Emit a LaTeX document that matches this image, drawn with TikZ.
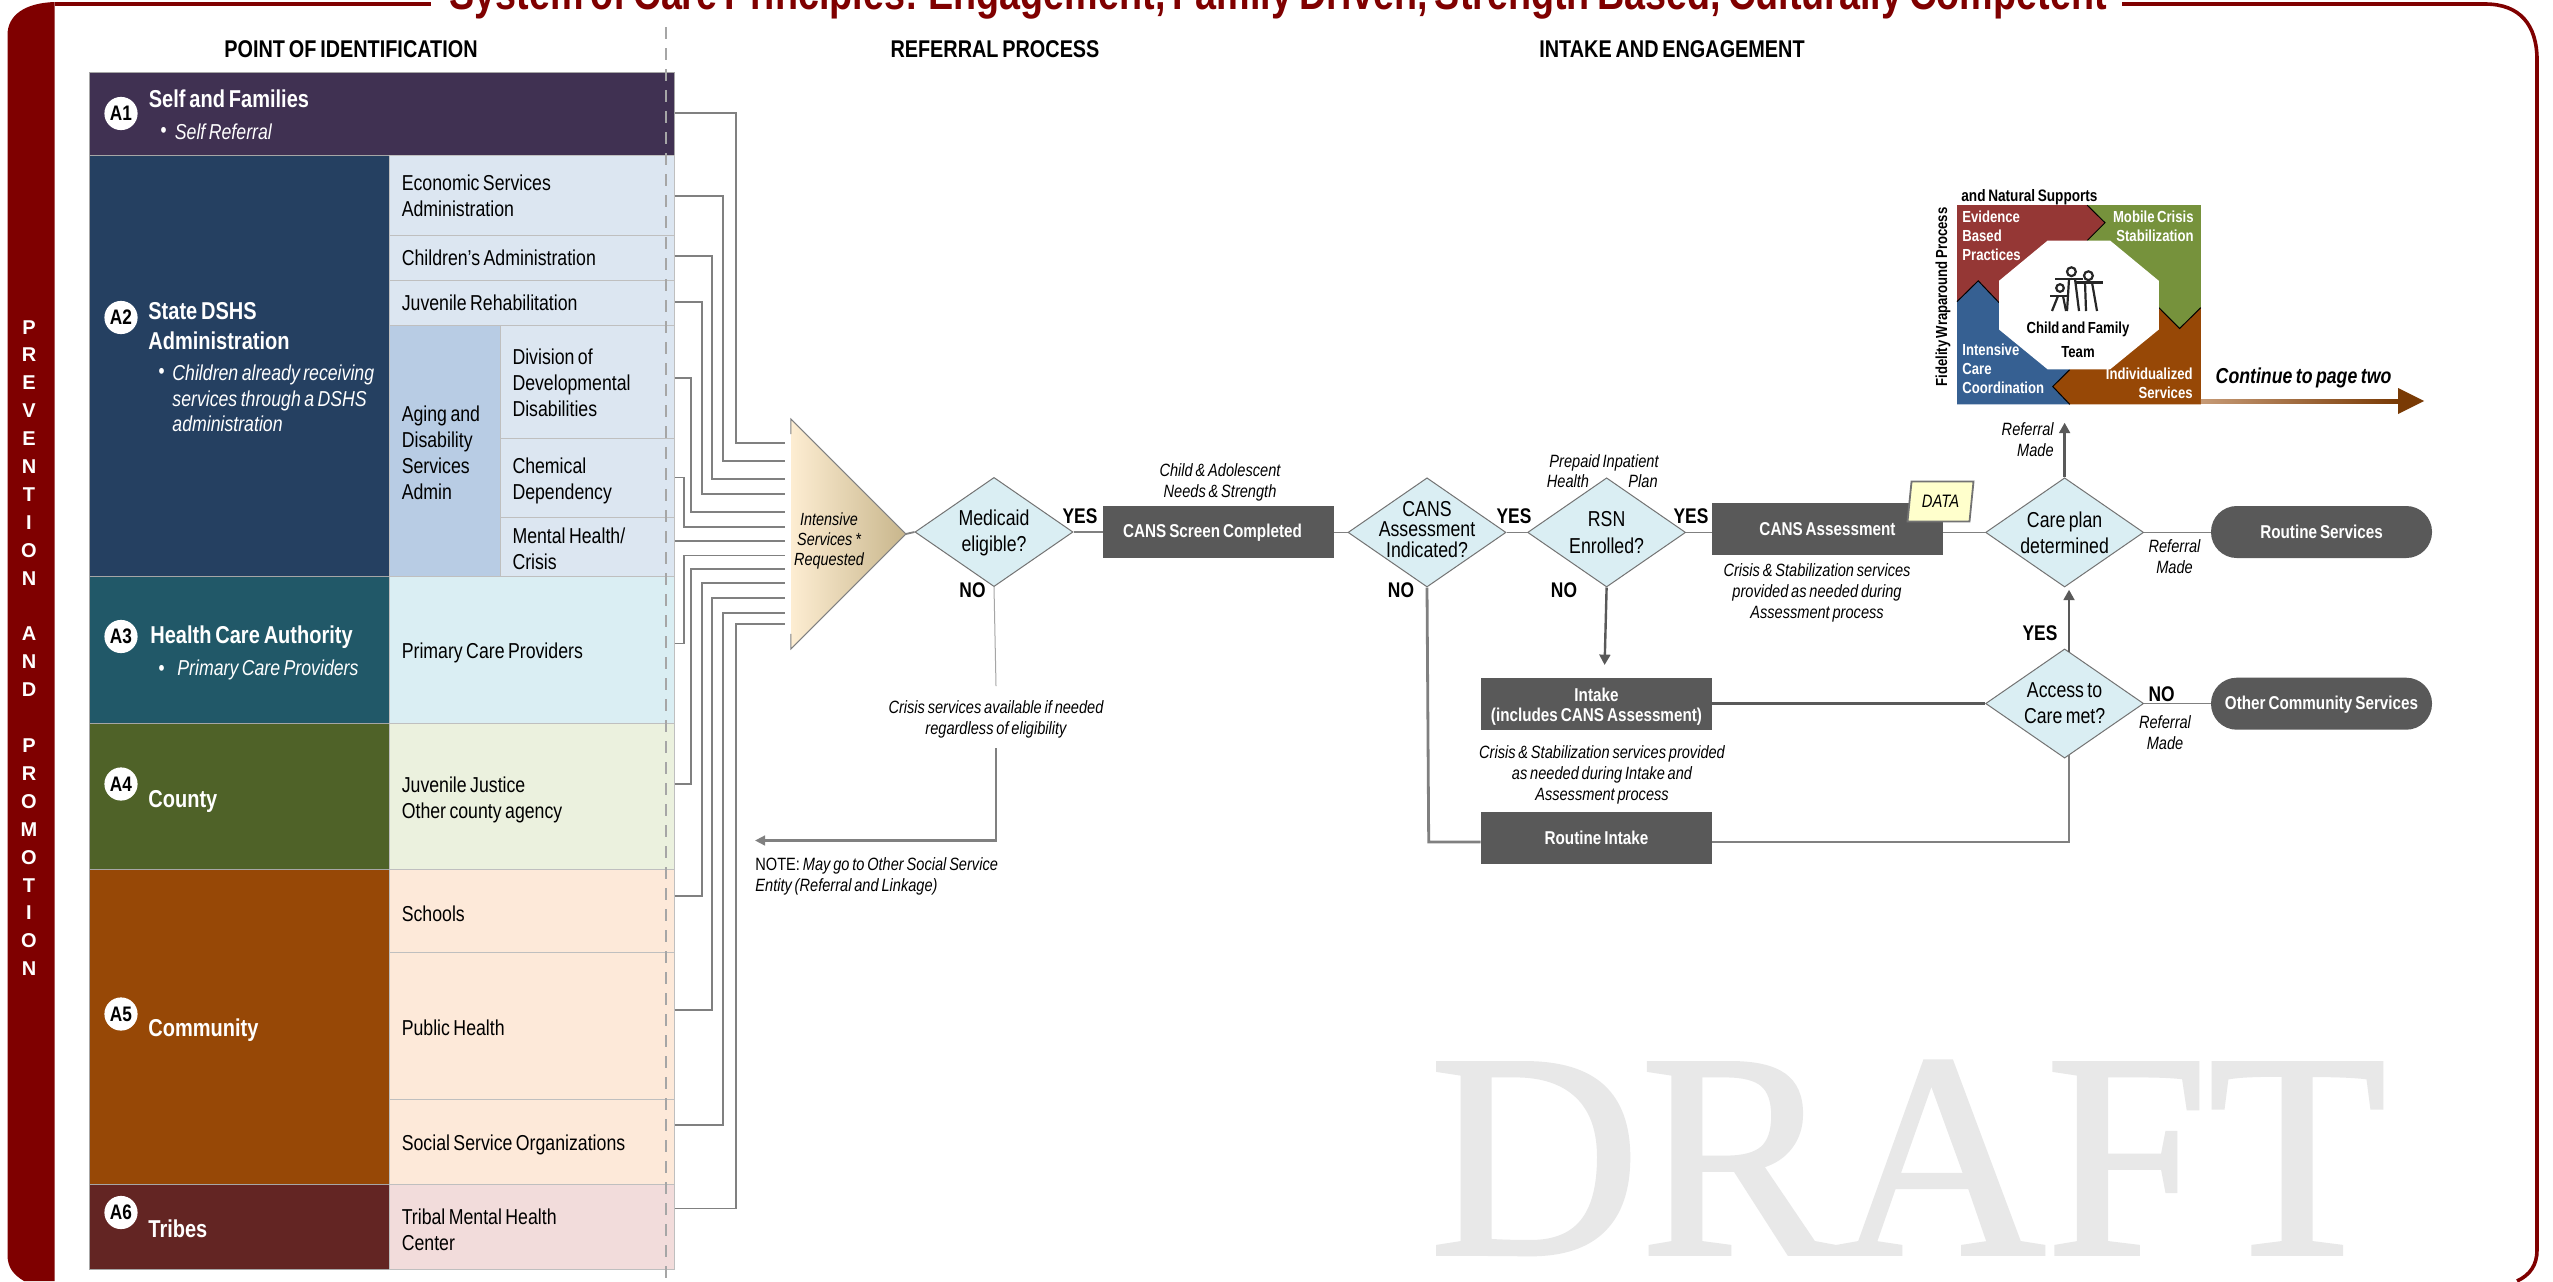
\documentclass[tikz,border=0pt]{standalone}
\usepackage{fontspec}
\setmainfont{Liberation Sans}[FakeStretch=0.82,WordSpace=0.7]
\newfontfamily\draftfont{Liberation Serif}[FakeBold=1.2]
\newfontfamily\widefont{Liberation Sans}
\usetikzlibrary{shapes.geometric,arrows.meta,calc}
\definecolor{framered}{HTML}{7F0000}
\definecolor{cA}{HTML}{403152}
\definecolor{cB}{HTML}{254061}
\definecolor{cC}{HTML}{215868}
\definecolor{cD}{HTML}{4F6228}
\definecolor{cE}{HTML}{974806}
\definecolor{cF}{HTML}{632523}
\definecolor{lB}{HTML}{DCE6F1}
\definecolor{lBB}{HTML}{B8CCE4}
\definecolor{lC}{HTML}{DAEEF3}
\definecolor{lD}{HTML}{EBF1DE}
\definecolor{lE}{HTML}{FDE9D9}
\definecolor{lF}{HTML}{F2DCDB}
\definecolor{boxgray}{HTML}{595959}
\definecolor{linegray}{HTML}{808080}
\definecolor{wred}{HTML}{953735}
\definecolor{wgreen}{HTML}{76923C}
\definecolor{wblue}{HTML}{366092}
\definecolor{triA}{HTML}{FDEDD2}
\definecolor{triB}{HTML}{F5E7C9}
\definecolor{triC}{HTML}{C8B68C}
\definecolor{datafill}{HTML}{FFFFCC}
\tikzset{
  cellst/.style={draw=black!25,line width=.5pt,anchor=north west,inner xsep=6pt,inner ysep=0pt,align=flush left,
    font=\fontsize{10.8}{13}\selectfont,text=black},
  acell/.style={draw=black!35,line width=.5pt,anchor=north west,inner sep=0pt},
  acirc/.style={circle,fill=white,inner sep=0pt,minimum size=16.6pt,font=\fontsize{10.5}{12}\bfseries\selectfont},
  ahead/.style={anchor=west,inner sep=0pt,align=left,text=white,font=\fontsize{12.2}{15}\bfseries\selectfont},
  asub/.style={anchor=west,inner sep=0pt,align=left,text=white,font=\fontsize{10.8}{12.8}\itshape\selectfont},
  hdr/.style={inner sep=0pt,font=\fontsize{12.1}{13}\bfseries\selectfont},
  dia/.style={shape=diamond,draw=black!55,fill=lC,line width=.5pt,inner sep=0pt,minimum width=79pt,minimum height=54.6pt},
  diatext/.style={align=center,inner sep=0pt,font=\fontsize{10.8}{#1}\selectfont,text=black},
  dbox/.style={fill=boxgray,text=white,inner sep=0pt,minimum width=115.5pt,minimum height=26pt,align=center,
    font=\fontsize{9.3}{10.2}\bfseries\selectfont},
  pill/.style={fill=boxgray,text=white,inner sep=0pt,minimum width=110.5pt,minimum height=26pt,rounded corners=12.9pt,
    font=\fontsize{9.3}{11}\bfseries\selectfont},
  ann/.style={inner sep=0pt,align=center,font=\fontsize{8.9}{10.5}\itshape\selectfont,text=black},
  yn/.style={inner sep=0pt,font=\fontsize{10.6}{12}\bfseries\selectfont},
  gw/.style={inner sep=0pt,text=white,align=left,font=\fontsize{8}{9.6}\bfseries\selectfont},
  feed/.style={draw=linegray,line width=.7pt},
  flow/.style={draw=linegray,line width=.9pt},
  heavy/.style={draw=linegray,line width=1.4pt},
  dark/.style={draw=boxgray,line width=1.2pt},
  tipa/.style={-{Triangle[length=5.2pt,width=5.4pt]}},
}
\newcommand{\cellbox}[7]{%
  \pgfmathsetmacro\cw{(#4-#2)*0.5-12}\pgfmathsetmacro\ch{(#5-#3)*0.5}%
  \node (#1) [cellst,fill=#6,text width=\cw pt,minimum height=\ch pt] at (#2,#3) {#7};}
\newcommand{\acellbox}[6]{%
  \pgfmathsetmacro\cw{(#4-#2)*0.5}\pgfmathsetmacro\ch{(#5-#3)*0.5}%
  \node (#1) [acell,fill=#6,minimum width=\cw pt,minimum height=\ch pt] at (#2,#3) {};}
\newcommand{\dna}{\rule{0pt}{9.3pt}}
\newcommand{\dnb}{\rule{0pt}{10.8pt}}
\begin{document}
\begin{tikzpicture}[x=0.5pt,y=-0.5pt]
\clip (0,0) rectangle (2553,1281);
\fill[white] (0,0) rectangle (2553,1281);
% watermark
\node (draft) [inner sep=0pt,anchor=base,text=black!9,font=\fontsize{146}{146}\draftfont\selectfont] at (1908,1254) {DRAFT};
% frame
\fill[framered] (54.6,2) -- (54.6,1281) -- (24,1281) .. controls (14,1275) and (7.5,1268) .. (7.5,1255) -- (7.5,35) .. controls (7.5,15) and (25,3) .. (54.6,2) -- cycle;
\draw[framered,line width=2pt] (54.6,4) -- (431,4);
\draw[framered,line width=1.8pt] (2122,4) -- (2485,4) .. controls (2520,4) and (2537,25) .. (2537,60) -- (2537,1250) .. controls (2537,1265) and (2530,1275) .. (2517,1281);
\node (title) [inner sep=0pt,anchor=base,text=framered,font=\fontsize{23}{24}\bfseries\selectfont] at (1278,9)
  {System of Care Principles: Engagement, Family Driven, Strength Based, Culturally Competent};
\node (vert) [inner sep=0pt,align=center,text=white,font=\fontsize{10}{13.95}\widefont\bfseries\selectfont] at (29,648)
  {P\\R\\E\\V\\E\\N\\T\\I\\O\\N\\ \\A\\N\\D\\ \\P\\R\\O\\M\\O\\T\\I\\O\\N};
% headers
\node (h1) [hdr] at (351,49.5) {POINT OF IDENTIFICATION};
\node (h2) [hdr] at (995,49.5) {REFERRAL PROCESS};
\node (h3) [hdr] at (1672,49.5) {INTAKE AND ENGAGEMENT};
% left column
\acellbox{a1}{89.3}{72}{673.5}{155}{cA}
\acellbox{a2}{89.3}{155}{389.3}{576.3}{cB}
\acellbox{a3}{89.3}{576.3}{389.3}{723}{cC}
\acellbox{a4}{89.3}{723}{389.3}{869.4}{cD}
\acellbox{a5}{89.3}{869.4}{389.3}{1183.7}{cE}
\acellbox{a6}{89.3}{1183.7}{389.3}{1268.5}{cF}
% right cells
\cellbox{econ}{389.3}{155}{673.5}{234.7}{lB}{Economic Services\\Administration}
\cellbox{child}{389.3}{234.7}{673.5}{279.6}{lB}{Children’s Administration}
\cellbox{juv}{389.3}{279.6}{673.5}{324.5}{lB}{Juvenile Rehabilitation}
\cellbox{aging}{389.3}{324.5}{500}{576.3}{lBB}{\dna Aging and\\Disability\\Services\\Admin}
\cellbox{ddd}{500}{324.5}{673.5}{438}{lB}{\dna Division of\\Developmental\\Disabilities}
\cellbox{chem}{500}{438}{673.5}{517}{lB}{\dnb Chemical\\Dependency}
\cellbox{mh}{500}{517}{673.5}{576.3}{lB}{\dna Mental Health/\\Crisis}
\cellbox{pcp}{389.3}{576.3}{673.5}{723}{lC}{\dnb Primary Care Providers}
\cellbox{jj}{389.3}{723}{673.5}{869.4}{lD}{\dnb Juvenile Justice\\Other county agency}
\cellbox{sch}{389.3}{869.4}{673.5}{952}{lE}{\dnb Schools}
\cellbox{pub}{389.3}{952}{673.5}{1098.8}{lE}{\dna Public Health}
\cellbox{soc}{389.3}{1098.8}{673.5}{1183.7}{lE}{\dnb Social Service Organizations}
\cellbox{trib}{389.3}{1183.7}{673.5}{1268.5}{lF}{\dnb Tribal Mental Health\\Center}
% dashed
\coordinate (dashT) at (665.8,27);
\coordinate (dashB) at (665.8,1279);
\draw[black!35,line width=.7pt,dash pattern=on 6pt off 4.5pt] (dashT) -- (dashB);
% left labels
\node (ca1) [acirc] at (121,113.5) {A1};
\node (ca2) [acirc] at (121,317.5) {A2};
\node (ca3) [acirc] at (121,636.5) {A3};
\node (ca4) [acirc] at (121,784) {A4};
\node (ca5) [acirc] at (121,1014) {A5};
\node (ca6) [acirc] at (121,1212.5) {A6};
\node (ta1) [ahead] at (148.5,99) {Self and Families};
\node (ba1) [asub] at (160,132) {•};
\node (sa1) [asub] at (174.5,132) {Self Referral};
\node (ta2) [ahead] at (148,326.5) {State DSHS\\Administration};
\node (ba2) [asub] at (158,373) {•};
\node (sa2) [asub] at (172,398.5) {Children already receiving\\services through a DSHS\\administration};
\node (ta3) [ahead] at (150,637.5) {Health Care Authority};
\node (ba3) [asub] at (158,670) {•};
\node (sa3) [asub] at (177,670) {Primary Care Providers};
\node (ta4) [ahead] at (148,801) {County};
\node (ta5) [ahead] at (148,1030) {Community};
\node (ta6) [ahead] at (148,1229) {Tribes};
% triangle
\node (tri) [isosceles triangle,isosceles triangle apex angle=90,isosceles triangle stretches,inner sep=0pt,
  minimum width=114pt,minimum height=57pt,left color=triA,middle color=triB,right color=triC,anchor=center,
  shading angle=90] at (838.5,534) {};
\draw[black!50,line width=.5pt] ($(tri.left corner)+(0,15)$) -- (tri.left corner) -- (tri.apex) -- (tri.right corner) -- ($(tri.right corner)+(0,-15)$);
\node (tritext) [ann,font=\fontsize{8.8}{10.2}\itshape\selectfont] at (829,541) {Intensive\\Services *\\Requested};
% feeders
\foreach \src/\sy/\vx/\ty in {a1/113/736/443, econ/196/723/461, child/256/712/479, juv/302/702/494, ddd/378/691/512, chem/477.5/684/527,
   pcp/643.6/684/555.6, jj/784/691/569, sch/896/702/583, pub/1010/712/598, soc/1125/723/613, trib/1208.6/736/624} {
  \coordinate (in-\src) at (784.5,\ty);
  \draw[feed] (\src.east |- 0,\sy) -- (\vx,\sy) -- (\vx,\ty) -- (in-\src);
}
\coordinate (in-mh) at (784.5,541);
\draw[feed] (mh.east |- in-mh) -- (in-mh);
% flow nodes
\node (med) [dia,label={[diatext=13,yshift=-.7pt]center:Medicaid\\eligible?}] at (994,532) {};
\node (cans) [dia,label={[diatext=10.4,yshift=1.5pt]center:CANS\\Assessment\\Indicated?}] at (1427,532.4) {};
\node (rsn) [dia,label={[diatext=13.3]center:RSN\\Enrolled?}] at (1606.6,532.4) {};
\node (care) [dia,label={[diatext=13]center:Care plan\\determined}] at (2064.6,532.4) {};
\node (acc) [dia,label={[diatext=13]center:Access to\\Care met?}] at (2064.6,703.5) {};
\node (screen) [dbox] at (1218.5,531.7) {\rule{0pt}{8pt}CANS Screen Completed\hspace{6pt}};
\node (assess) [dbox] at (1827.5,529) {CANS Assessment};
\node (intake) [dbox] at (1596.5,703.5) {\rule{0pt}{10pt}Intake\\(includes CANS Assessment)};
\node (routine) [dbox] at (1596.5,837.7) {Routine Intake};
\node (rserv) [pill] at (2321.5,532) {Routine Services};
\node (oserv) [pill] at (2321.5,703.7) {\rule{0pt}{8pt}Other Community Services};
\node (data) [trapezium,trapezium left angle=72,trapezium right angle=108,draw=black!55,line width=.9pt,fill=datafill,inner sep=0pt,
  minimum height=20pt,trapezium stretches body,minimum width=33pt,font=\fontsize{9}{10}\itshape\selectfont] at (1940.5,501.5) {DATA};
% connectors
\draw[flow] (tri.apex) -- (med.west);
\draw[flow] (med.east) -- (screen.west |- med.east);
\draw[flow] (screen.east |- cans.west) -- (cans.west);
\draw[flow] (cans.east) -- (rsn.west);
\draw[flow] (rsn.east) -- (assess.west |- rsn.east);
\draw[flow] (assess.east |- care.west) -- (care.west);
\draw[flow] (care.east) -- (rserv.west |- care.east);
\draw[flow] (acc.east) -- (oserv.west |- acc.east);
\draw[dark] (intake.east) -- (acc.west);
\coordinate (crisisA) at (996,686);
\draw[black!35,line width=.5pt] (med.south) -- (crisisA);
\coordinate (crisisB) at (996,748);
\coordinate (otherS) at (755,840.5);
\draw[heavy,-{Triangle[length=5pt,width=4.8pt]}] (crisisB) |- (otherS);
\draw[dark,tipa] (rsn.south) -- (1604.6,665);
\coordinate (routineA) at (1428.7,842);
\draw[heavy] (cans.south) -- (routineA) -- (routine.west |- routineA);
\coordinate (accin) at (2069,755);
\coordinate (accout) at (2069,652);
\coordinate (carein) at (2069,589.7);
\draw[heavy] (routine.east |- routineA) -| (accin);
\draw[dark,tipa] (accout) -- (carein);
\coordinate (upT) at (2064.6,422.7);
\draw[dark,tipa] (care.north) -- (upT);
% annotations
\node (n1) [ann] at (1220,482) {Child \& Adolescent\\Needs \& Strength};
\node (n2) [ann] at (996,719) {Crisis services available if needed\\regardless of eligibility};
\node (n3) [ann,anchor=west,align=left] at (755,876.5) {\upshape NOTE: \itshape May go to Other Social Service\\Entity (Referral and Linkage)};
\node (n4) [ann] at (1604,463) {Prepaid Inpatient};
\node (n5) [ann] at (1568,481.5) {Health};
\node (n6) [ann] at (1643,481.5) {Plan};
\node (n7) [ann] at (1817,592.5) {Crisis \& Stabilization services\\provided as needed during\\Assessment process};
\node (n8) [ann] at (1602,774.5) {Crisis \& Stabilization services provided\\as needed during Intake and\\Assessment process};
\node (n9) [ann,align=right,anchor=east] at (2054,440) {Referral\\Made};
\node (n10) [ann] at (2174.5,557) {Referral\\Made};
\node (n11) [ann] at (2165,733) {Referral\\Made};
\node (y1) [yn] at (1080,515.7) {YES};
\node (y2) [yn] at (1514,516) {YES};
\node (y3) [yn] at (1691,516) {YES};
\node (y4) [yn] at (2040,633) {YES};
\node (no1) [yn] at (972.5,590) {NO};
\node (no2) [yn] at (1401,590) {NO};
\node (no3) [yn] at (1564,590) {NO};
\node (no4) [yn] at (2161.7,694) {NO};
% wraparound graphic
\fill[wred] (1957,205.2) -- (2087.2,205.2) -- (2105,222.7) -- (2087.2,240.5) -- (2078,305) -- (1999,302.6) -- (1978.2,280.8) -- (1957,301.6) -- cycle;
\fill[wgreen] (2087.2,205.2) -- (2200.8,205.2) -- (2200.8,307.6) -- (2179.6,328.5) -- (2158.8,307.6) -- (2078,305) -- (2087.2,240.5) -- (2105,222.7) -- cycle;
\fill[cE] (2200.8,307.6) -- (2200.8,404.3) -- (2069.7,404.3) -- (2052.7,386.5) -- (2069.7,369.7) -- (2078,305) -- (2158.8,307.6) -- (2179.6,328.5) -- cycle;
\fill[wblue] (1957,301.6) -- (1978.2,280.8) -- (1999,302.6) -- (2078,305) -- (2069.7,369.7) -- (2052.7,386.5) -- (2069.7,404.3) -- (1957,404.3) -- cycle;
\draw[black,line width=.5pt] (2087.2,205.2) -- (2105,222.7) -- (2087.2,240.5);
\draw[black,line width=.5pt] (1957,301.6) -- (1978.2,280.8) -- (1999,302.6);
\draw[black,line width=.5pt] (2158.8,307.6) -- (2179.6,328.5) -- (2200.8,307.6);
\draw[black,line width=.5pt] (2069.7,369.7) -- (2052.7,386.5) -- (2069.7,404.3);
\fill[white] (2047.7,240.5) -- (2110,240.5) -- (2158.8,280.8) -- (2158.8,329.5) -- (2110,369.4) -- (2047.7,369.4) -- (1999,329.5) -- (1999,280.8) -- cycle;
% family icon
\begin{scope}[black!85,line width=1.1pt]
\draw (2071.4,271.7) circle[radius=2.2pt];
\draw (2088.4,275.7) circle[radius=2.2pt];
\draw (2060,288) circle[radius=1.9pt];
\draw (2055,279) -- (2083,279);
\draw (2075,282.5) -- (2103,282.5);
\draw (2050,296) -- (2068.5,296);
\draw (2067,311) -- (2069,279);
\draw (2079,311) -- (2075,279);
\draw (2086,311) -- (2085,282.5);
\draw (2097,311) -- (2092,282.5);
\draw (2052,311) -- (2058,296);
\draw (2066,311) -- (2063,296);
\end{scope}
\node (cft) [inner sep=0pt,align=center,font=\fontsize{8}{12}\bfseries\selectfont] at (2078,340) {Child and Family\\Team};
\node (g1) [gw,anchor=west] at (1962,236) {Evidence\\Based\\Practices};
\node (g2) [gw,anchor=east,align=right] at (2194,226.5) {Mobile Crisis\\Stabilization};
\node (g3) [gw,anchor=west] at (1962,369) {Intensive\\Care\\Coordination};
\node (g4) [gw,anchor=east,align=right] at (2193,383.5) {Individualized\\Services};
\node (g5) [inner sep=0pt,anchor=west,font=\fontsize{8.3}{10}\bfseries\selectfont] at (1961,197) {and Natural Supports};
\node (g6) [inner sep=0pt,rotate=90,font=\fontsize{8}{10}\bfseries\selectfont] at (1943,297) {Fidelity Wraparound Process};
\node (g7) [inner sep=0pt,font=\fontsize{10.8}{12}\bfseries\itshape\selectfont] at (2303.5,377.5) {Continue to page two};
\coordinate (contA) at (2200.8,399);
\coordinate (contB) at (2398,403);
\shade[left color=cE!55!white,right color=cE!80!black] (contA) rectangle (contB);
\coordinate (contT) at (2424,401);
\fill[cE!80!black] (contT) -- (2398,388) -- (2398,414) -- cycle;
\end{tikzpicture}
\end{document}
